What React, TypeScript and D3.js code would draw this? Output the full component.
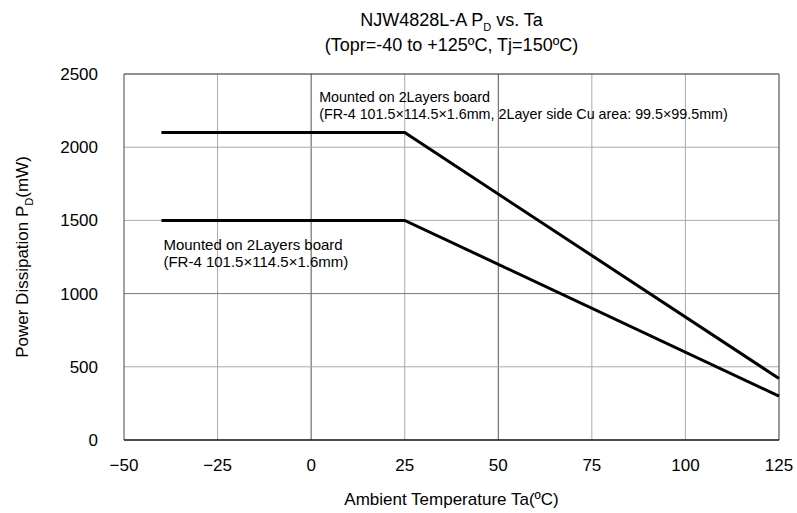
import { useMemo } from "react";
import * as d3 from "d3";

// Derating curves (Ta in degC, Pd in mW)
const TA = [-40, 25, 125];
const PD_CU = [2100, 2100, 420];
const PD_STD = [1500, 1500, 300];

const X_TICKS = [-50, -25, 0, 25, 50, 75, 100, 125];
const Y_TICKS = [0, 500, 1000, 1500, 2000, 2500];
const DARK_X = [0, 50];
const DARK_Y = [1000];

const W = 797;
const H = 513;
const M = { left: 124, right: 18, top: 74, bottom: 73 };
const FONT = "'Liberation Sans', Arial, sans-serif";

export default function App() {
  const x = useMemo(() => d3.scaleLinear().domain([-50, 125]).range([M.left, W - M.right]), []);
  const y = useMemo(() => d3.scaleLinear().domain([0, 2500]).range([H - M.bottom, M.top]), []);

  const line = d3
    .line<number>()
    .x((_, i) => x(TA[i]))
    .y((d) => y(d));

  const x0 = x.range()[0];
  const x1 = x.range()[1];
  const y0 = y.range()[0];
  const y1 = y.range()[1];

  return (
    <svg width={W} height={H} style={{ position: "absolute", left: 0, top: 0, fontFamily: FONT }}>
      <rect width={W} height={H} fill="#fff" />

      {/* grid */}
      {X_TICKS.slice(1, -1).map((t) => (
        <line
          key={"gx" + t}
          x1={x(t)}
          x2={x(t)}
          y1={y0}
          y2={y1}
          stroke={DARK_X.includes(t) ? "#555" : "#aaa"}
          strokeWidth={1}
        />
      ))}
      {Y_TICKS.slice(1, -1).map((t) => (
        <line
          key={"gy" + t}
          x1={x0}
          x2={x1}
          y1={y(t)}
          y2={y(t)}
          stroke={DARK_Y.includes(t) ? "#777" : "#aaa"}
          strokeWidth={1}
        />
      ))}

      {/* frame */}
      <line x1={x0} x2={x1} y1={y1} y2={y1} stroke="#222" />
      <line x1={x0} x2={x0} y1={y0} y2={y1} stroke="#444" />
      <line x1={x1} x2={x1} y1={y0} y2={y1} stroke="#777" strokeWidth={1.5} />
      <line x1={x0} x2={x1} y1={y0} y2={y0} stroke="#111" strokeWidth={1.5} />

      {/* curves */}
      <path d={line(PD_CU) ?? ""} fill="none" stroke="#000" strokeWidth={3} />
      <path d={line(PD_STD) ?? ""} fill="none" stroke="#000" strokeWidth={3} />

      {/* annotations */}
      <text x={x(0) + 8} y={102} fontSize={14.3} fill="#000">
        Mounted on 2Layers board
      </text>
      <text x={x(0) + 8} y={119} fontSize={14.3} fill="#000">
        (FR-4 101.5×114.5×1.6mm, 2Layer side Cu area: 99.5×99.5mm)
      </text>
      <text x={x(-40) + 2} y={250} fontSize={15} fill="#000">
        Mounted on 2Layers board
      </text>
      <text x={x(-40) + 2} y={267} fontSize={15} fill="#000">
        (FR-4 101.5×114.5×1.6mm)
      </text>

      {/* x tick labels */}
      {X_TICKS.map((t) => (
        <text key={"tx" + t} x={x(t)} y={471} fontSize={17} textAnchor="middle" fill="#000">
          {t < 0 ? "\u2212" + Math.abs(t) : t}
        </text>
      ))}
      {/* y tick labels */}
      {Y_TICKS.map((t) => (
        <text key={"ty" + t} x={98} y={y(t) + 6} fontSize={17} textAnchor="end" fill="#000">
          {t}
        </text>
      ))}

      {/* axis titles */}
      <text x={(x0 + x1) / 2} y={505} fontSize={17} textAnchor="middle" fill="#000">
        Ambient Temperature Ta(ºC)
      </text>
      <text
        transform={`translate(28,${(y0 + y1) / 2}) rotate(-90)`}
        fontSize={17}
        textAnchor="middle"
        fill="#000"
      >
        Power Dissipation P<tspan fontSize={11} dy={5}>D</tspan>
        <tspan dy={-5}>(mW)</tspan>
      </text>

      {/* title */}
      <text x={(x0 + x1) / 2} y={26} fontSize={18} textAnchor="middle" fill="#000">
        NJW4828L-A P<tspan fontSize={11} dy={5}>D</tspan>
        <tspan dy={-5}> vs. Ta</tspan>
      </text>
      <text x={(x0 + x1) / 2} y={51} fontSize={18} textAnchor="middle" fill="#000">
        (Topr=-40 to +125ºC, Tj=150ºC)
      </text>
    </svg>
  );
}
